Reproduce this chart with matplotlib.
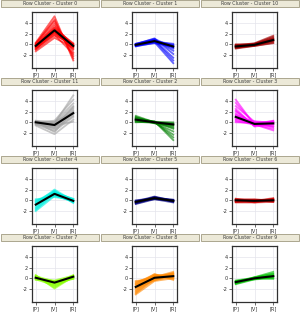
import matplotlib.pyplot as plt
from matplotlib.patches import Rectangle

conditions = ['[P]', '[V]', '[R]']
cluster_names = ['0', '1', '10', '11', '2', '3', '4', '5', '6', '7', '8', '9']
cluster_colors = ['#ff0000', '#0000ff', '#a00000', '#a0a0a0', '#008000', '#ff00ff',
                  '#00f0e0', '#000080', '#d00000', '#88ff00', '#ff8800', '#00c000']

# mean profile per cluster (P, V, R)
means = [
    [-0.3, 2.6, -0.3], [-0.1, 0.6, -0.4], [-0.4, -0.1, 0.8], [0.0, -0.5, 1.7],
    [0.5, 0.0, -0.4], [1.0, -0.3, -0.2], [-0.8, 1.2, -0.1], [-0.3, 0.4, -0.1],
    [0.0, -0.1, 0.0], [0.1, -0.8, 0.3], [-1.6, 0.1, 0.4], [-0.7, 0.0, 0.4],
]

# member profiles
c0 = [[-1.3, 1.2, -0.6], [-1.0, 1.6, 0.1], [-0.8, 2.0, -0.2], [-0.6, 2.3, -0.5],
      [-0.5, 2.6, -1.0], [-0.3, 3.0, -0.4], [-0.2, 3.4, -0.3], [0.0, 3.8, -1.5],
      [0.2, 4.3, -2.2], [0.3, 5.2, -3.0], [-0.4, 2.8, 0.2], [-0.1, 2.2, -0.8],
      [-0.7, 1.8, -1.8], [0.1, 4.6, -2.6], [-0.9, 2.4, -0.1], [-0.2, 3.1, 0.0]]
c1 = [[-0.4, 0.3, -0.2], [-0.3, 0.5, -0.5], [-0.2, 0.7, -0.8], [-0.1, 0.9, -1.2],
      [0.0, 1.1, -1.8], [0.1, 0.8, -2.5], [-0.2, 0.4, -3.5], [-0.1, 0.6, -0.1],
      [0.0, 0.5, 0.1], [-0.3, 0.2, -0.4], [0.1, 1.0, -0.6], [-0.2, 0.7, -3.0]]
c10 = [[-0.8, -0.3, 0.3], [-0.7, -0.2, 0.6], [-0.6, -0.1, 0.8], [-0.5, 0.0, 1.0],
       [-0.4, 0.1, 1.2], [-0.2, 0.2, 1.6], [0.0, -0.1, 0.5], [-0.3, -0.2, 0.9],
       [-0.1, 0.1, 1.4], [-0.6, -0.3, 0.2], [-0.4, 0.0, 1.1], [-0.2, -0.2, 0.7]]
c11 = [[-0.6, -2.2, 0.5], [-0.4, -1.6, 1.0], [-0.2, -1.1, 1.5], [0.0, -0.8, 2.0],
       [0.1, -0.5, 2.5], [0.2, -0.3, 3.0], [0.3, 0.0, 3.5], [0.0, 0.3, 4.2],
       [-0.3, -0.2, 5.0], [-0.1, -1.3, 1.2], [0.2, -0.6, 0.1], [-0.4, -0.9, 2.8],
       [0.1, -1.8, 2.2], [-0.2, 0.1, 1.8]]
c2 = [[0.0, 0.1, 0.0], [0.2, 0.0, -0.2], [0.4, -0.1, -0.5], [0.6, 0.0, -0.8],
      [0.8, 0.1, -1.2], [1.0, -0.1, -1.7], [1.2, 0.0, -2.3], [0.5, 0.2, -3.3],
      [0.7, -0.2, -0.3], [0.3, 0.1, -2.8], [0.9, 0.0, -0.6], [0.1, -0.1, -1.0]]
c3 = [[0.0, -0.1, -0.2], [0.4, -0.3, 0.2], [0.8, -0.5, -0.4], [1.2, -0.2, -0.8],
      [1.6, -0.6, 0.1], [2.0, -0.4, -1.5], [2.5, -0.8, -0.3], [3.0, 0.1, -0.1],
      [3.6, -0.3, 0.3], [4.2, -0.5, -0.6], [0.6, 0.2, -0.1], [1.4, -0.1, -0.9],
      [2.2, -0.7, 0.2], [0.2, -0.4, -1.2]]
c4 = [[-2.0, 0.8, 0.0], [-1.6, 1.0, -0.3], [-1.2, 1.3, 0.2], [-0.9, 1.6, -0.5],
      [-0.6, 2.0, -0.1], [-0.3, 1.4, 0.3], [0.0, 0.9, -0.2], [0.2, 0.6, 0.1],
      [-1.4, 1.8, -0.4], [-0.5, 1.1, 0.0], [-1.8, 1.5, 0.2], [-0.2, 1.7, -0.3]]
c5 = [[-0.7, 0.2, -0.4], [-0.6, 0.3, -0.2], [-0.5, 0.4, 0.0], [-0.4, 0.5, 0.1],
      [-0.3, 0.6, -0.3], [-0.2, 0.7, -0.1], [-0.1, 0.3, 0.1], [0.0, 0.4, -0.2],
      [-0.5, 0.6, -0.1], [-0.2, 0.2, 0.0]]
c6 = [[-0.4, -0.4, -0.3], [-0.3, -0.3, 0.0], [-0.2, -0.2, 0.2], [-0.1, -0.1, 0.4],
      [0.0, 0.0, -0.2], [0.1, 0.1, 0.1], [0.2, 0.2, -0.1], [0.3, -0.2, 0.3],
      [0.1, -0.4, 0.0], [-0.2, 0.1, -0.3], [0.2, -0.3, 0.2], [-0.3, 0.0, 0.1]]
c7 = [[-0.3, -0.5, -0.1], [-0.1, -0.7, 0.2], [0.1, -0.9, 0.4], [0.3, -1.2, 0.6],
      [0.5, -1.5, 0.1], [0.6, -1.9, 0.3], [0.0, -0.4, 0.5], [0.2, -1.0, -0.1],
      [0.4, -0.6, 0.3], [-0.2, -1.3, 0.2], [0.3, -1.7, 0.5], [0.1, -0.8, 0.0]]
c8 = [[-3.0, -0.5, 0.0], [-2.6, -0.2, 0.5], [-2.2, 0.0, 1.0], [-1.9, 0.3, 0.2],
      [-1.6, 0.5, 0.8], [-1.3, 0.8, -0.3], [-1.0, 0.2, 1.2], [-0.7, 0.4, 0.4],
      [-0.5, -0.1, 0.6], [-2.4, 0.6, -0.1], [-1.2, -0.3, 0.3], [-2.8, 0.1, 0.9],
      [-0.9, 0.7, 0.1], [-1.8, -0.4, 0.7]]
c9 = [[-1.1, -0.2, 0.0], [-1.0, -0.1, 0.3], [-0.9, 0.0, 0.6], [-0.8, 0.1, 0.9],
      [-0.7, 0.2, 1.2], [-0.6, -0.1, 0.2], [-0.5, 0.0, 0.5], [-0.4, 0.1, -0.1],
      [-0.9, 0.2, 0.8], [-0.6, -0.2, 0.4]]

members = [c0, c1, c10, c11, c2, c3, c4, c5, c6, c7, c8, c9]

W, H = 302, 312
fig = plt.figure(figsize=(W / 100, H / 100), dpi=100)
fig.patch.set_facecolor('white')

row_h = 78
for i, name in enumerate(cluster_names):
    row, col = i // 3, i % 3
    x0 = col * 100
    y0 = row * row_h

    # header bar
    hx, hy, hw, hh = x0 + 1, y0, 98, 7
    fig.patches.append(Rectangle((hx / W, 1 - (hy + hh) / H), hw / W, hh / H,
                                 transform=fig.transFigure, facecolor='#ece9d8',
                                 edgecolor='#a09a80', linewidth=0.6))
    fig.text((hx + hw / 2) / W, 1 - (hy + hh / 2 + 0.3) / H,
             'Row Cluster - Cluster ' + name, ha='center', va='center',
             fontsize=3.4, color='#404040')

    ax = fig.add_axes([(x0 + 32) / W, 1 - (y0 + 68) / H, 45 / W, 56 / H])
    xs = [0, 1, 2]
    for prof in members[i]:
        ax.plot(xs, prof, color=cluster_colors[i], lw=1.3, alpha=0.6)
    ax.plot(xs, means[i], color='black', lw=1.5)

    ax.set_xlim(-0.2, 2.2)
    ax.set_ylim(-4.4, 6)
    ax.set_xticks(xs)
    ax.set_xticklabels(conditions)
    ax.set_yticks([-2, 0, 2, 4])
    ax.set_yticklabels(['-2', '0', '2', '4'])
    ax.tick_params(labelsize=3.6, length=2, width=0.5, pad=1, colors='#303030')
    ax.grid(True, color='#e4e4ec', lw=0.5)
    ax.set_axisbelow(True)
    for s in ax.spines.values():
        s.set_linewidth(0.9)
        s.set_color('#303030')

fig.savefig('out.png', dpi=100, facecolor='white')
